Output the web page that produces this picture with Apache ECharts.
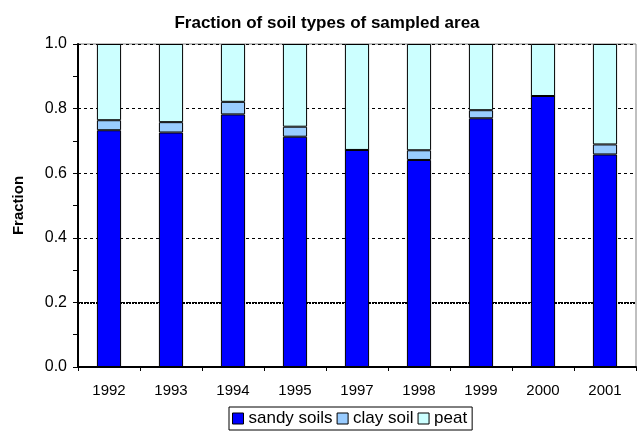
<!DOCTYPE html>
<html><head><meta charset="utf-8">
<script src="https://cdn.jsdelivr.net/npm/echarts@6/dist/echarts.min.js"></script>
<style>html,body{margin:0;padding:0;background:#fff}#c{width:641px;height:436px}</style>
</head><body><div id="c"></div>
<script>
var years = ['1992','1993','1994','1995','1997','1998','1999','2000','2001'];
var sandy = [0.733,0.726,0.782,0.713,0.672,0.641,0.770,0.839,0.658];
var clay  = [0.031,0.032,0.039,0.031,0.000,0.030,0.025,0.000,0.031];
var peat  = [0.236,0.242,0.179,0.256,0.328,0.329,0.205,0.161,0.311];
var yTicks = [0,0.2,0.4,0.6,0.8,1.0];

var F = '"Liberation Sans", Arial, sans-serif';
var chart = echarts.init(document.getElementById('c'), null, {renderer:'canvas'});
var barStyle = function(c){ return {color:c, borderColor:'#000', borderWidth:1}; };
chart.setOption({
  animation:false,
  title:{text:'Fraction of soil types of sampled area', left:322, textAlign:'center', top:10,
    textStyle:{fontFamily:F, fontSize:17, fontWeight:'bold', color:'#000'}},
  grid:{left:78, right:5, top:44, bottom:69, show:true, borderColor:'#808080', borderWidth:1},
  legend:{top:407, left:229, icon:'rect', itemWidth:11, itemHeight:11, itemGap:4, padding:[3,5,3,3],
    borderColor:'#000', borderWidth:1, textStyle:{fontFamily:F, fontSize:17, color:'#000', padding:[0,0,0,0]},
    itemStyle:{borderColor:'#000', borderWidth:1},
    data:['sandy soils','clay soil','peat']},
  xAxis:{type:'category', data:years,
    axisLine:{lineStyle:{color:'#000', width:2}},
    axisTick:{show:true, length:4, lineStyle:{color:'#000', width:1}},
    axisLabel:{fontFamily:F, fontSize:15, color:'#000', margin:16}},
  yAxis:{type:'value', min:0, max:1, interval:0.2, name:'Fraction', nameLocation:'middle', nameGap:52,
    nameTextStyle:{fontFamily:F, fontSize:15, fontWeight:'bold', color:'#000'},
    axisLine:{show:true, lineStyle:{color:'#000', width:2}},
    axisTick:{show:true, length:5, lineStyle:{color:'#000', width:1}},
    minorTick:{show:true, splitNumber:2, length:5, lineStyle:{color:'#000', width:1}},
    axisLabel:{fontFamily:F, fontSize:16, color:'#000', margin:11,
      formatter:function(v){ return yTicks.indexOf(v) >= 0 ? v.toFixed(1) : ''; }},
    splitLine:{show:true, lineStyle:{color:'#000', width:1, type:[3,3]}}},
  series:[
    {name:'sandy soils', type:'bar', stack:'s', data:sandy, barWidth:'39%', itemStyle:barStyle('#0000FF'),
      markLine:{silent:true, symbol:'none', z:1, label:{show:false},
        lineStyle:{color:'#000', width:2, type:[2,1], opacity:1}, data:[{yAxis:0.2}]}},
    {name:'clay soil', type:'bar', stack:'s', data:clay, barWidth:'39%', itemStyle:barStyle('#99CCFF')},
    {name:'peat', type:'bar', stack:'s', data:peat, barWidth:'39%', itemStyle:barStyle('#CCFFFF')}
  ]
});
</script></body></html>
